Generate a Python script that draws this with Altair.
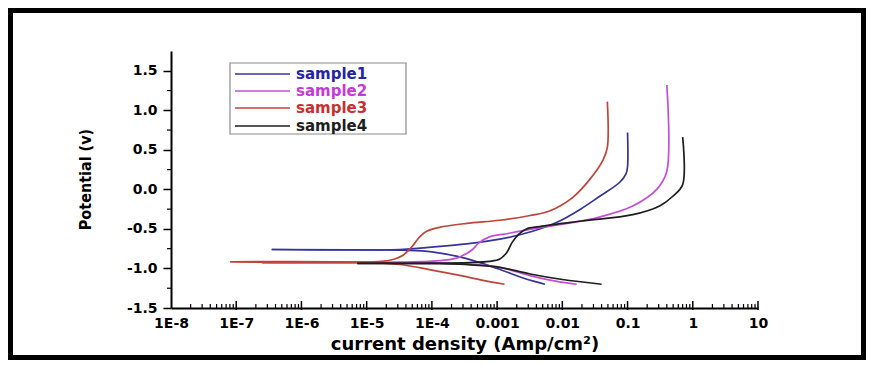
import altair as alt
import pandas as pd

# ---------------- data ----------------
samples = ["sample1", "sample2", "sample3", "sample4"]
line_colors = ["#34349a", "#c24fd6", "#c0443a", "#1e1e1e"]
text_colors = ["#2424a8", "#c838d8", "#c83030", "#1e1e1e"]

# current density (A/cm^2) and potential (V); each branch starts at the low-current end
s1_anodic_i = [3.5e-7, 3.2e-5, 1.0e-4, 3.4e-4, 1.1e-3, 3.5e-3, 8.1e-3, 1.9e-2, 3.7e-2, 7.6e-2, 0.095, 0.1, 0.1]
s1_anodic_E = [-0.76, -0.76, -0.73, -0.69, -0.63, -0.53, -0.42, -0.25, -0.09, 0.09, 0.20, 0.29, 0.72]
s1_cath_i = [3.5e-7, 3.5e-5, 1.0e-4, 3.2e-4, 1.0e-3, 2.5e-3, 4.0e-3, 5.4e-3]
s1_cath_E = [-0.76, -0.77, -0.79, -0.87, -1.00, -1.12, -1.17, -1.20]

s2_anodic_i = [2.5e-7, 3.2e-5, 1.3e-4, 2.4e-4, 3.4e-4, 4.2e-4, 5.2e-4, 7.6e-4, 1.2e-3, 3.5e-3, 1.2e-2, 3.7e-2, 0.12, 0.28, 0.4, 0.4]
s2_anodic_E = [-0.925, -0.92, -0.90, -0.87, -0.81, -0.76, -0.68, -0.60, -0.57, -0.50, -0.43, -0.35, -0.21, 0.00, 0.23, 1.32]
s2_cath_i = [2.5e-7, 1.0e-4, 3.2e-4, 1.0e-3, 3.2e-3, 7.9e-3, 1.66e-2]
s2_cath_E = [-0.925, -0.93, -0.94, -0.98, -1.09, -1.16, -1.20]

s3_anodic_i = [8.1e-8, 1.7e-5, 2.7e-5, 3.5e-5, 5.0e-5, 6.5e-5, 8.3e-5, 1.3e-4, 3.4e-4, 1.1e-3, 3.2e-3, 6.5e-3, 1.45e-2, 2.6e-2, 4.2e-2, 4.9e-2, 4.9e-2]
s3_anodic_E = [-0.915, -0.91, -0.88, -0.84, -0.72, -0.60, -0.53, -0.48, -0.43, -0.39, -0.33, -0.27, -0.10, 0.12, 0.37, 0.53, 1.11]
s3_cath_i = [8.1e-8, 7.8e-6, 3.2e-5, 1.0e-4, 3.2e-4, 7.9e-4, 1.3e-3]
s3_cath_E = [-0.915, -0.92, -0.95, -1.02, -1.10, -1.17, -1.20]

s4_anodic_i = [7.2e-6, 3.8e-4, 7.6e-4, 1.1e-3, 1.4e-3, 1.7e-3, 2.2e-3, 2.8e-3, 4.5e-3, 2.0e-2, 0.12, 0.31, 0.49, 0.7, 0.7]
s4_anodic_E = [-0.935, -0.925, -0.91, -0.88, -0.80, -0.67, -0.56, -0.50, -0.47, -0.40, -0.32, -0.21, -0.09, 0.06, 0.66]
s4_cath_i = [7.2e-6, 1.3e-4, 3.2e-4, 1.0e-3, 3.2e-3, 1.0e-2, 4.0e-2]
s4_cath_E = [-0.935, -0.94, -0.95, -0.98, -1.07, -1.14, -1.20]

x_major = [1e-8, 1e-7, 1e-6, 1e-5, 1e-4, 1e-3, 1e-2, 1e-1, 1, 10]
x_tick_labels = ["1E-8", "1E-7", "1E-6", "1E-5", "1E-4", "0.001", "0.01", "0.1", "1", "10"]
y_ticks = [-1.5, -1.0, -0.5, 0.0, 0.5, 1.0, 1.5]
y_minor = [-1.25, -0.75, -0.25, 0.25, 0.75, 1.25]

# ---------------- build table ----------------
branches = [
    ("sample1", "anodic", s1_anodic_i, s1_anodic_E), ("sample1", "cathodic", s1_cath_i, s1_cath_E),
    ("sample2", "anodic", s2_anodic_i, s2_anodic_E), ("sample2", "cathodic", s2_cath_i, s2_cath_E),
    ("sample3", "anodic", s3_anodic_i, s3_anodic_E), ("sample3", "cathodic", s3_cath_i, s3_cath_E),
    ("sample4", "anodic", s4_anodic_i, s4_anodic_E), ("sample4", "cathodic", s4_cath_i, s4_cath_E),
]
rows = []
for name, br, ii, ee in branches:
    for k, (a, b) in enumerate(zip(ii, ee)):
        rows.append({"sample": name, "branch": name + br, "order": k, "i": a, "E": b})
df = pd.DataFrame(rows)

x_minor = [m * 10.0 ** k for k in range(-8, 1) for m in range(2, 10)]

W, H = 587, 257
PAD = {"left": 163, "top": 43, "right": 108, "bottom": 52}

x_scale = alt.Scale(type="log", domain=[1e-8, 10], nice=False)
y_scale = alt.Scale(domain=[-1.5, 1.75], nice=False, zero=False)
color_scale = alt.Scale(domain=samples, range=line_colors)

x_label_expr = "[" + ",".join("'%s'" % s for s in x_tick_labels) + "][round(log(datum.value)/LN10) + 8]"

x_axis = alt.Axis(
    values=x_major, labelExpr=x_label_expr, ticks=False, tickSize=0, grid=False,
    domainColor="black", domainWidth=2, labelPadding=8, labelFlush=False, labelOverlap=False,
    labelFont="DejaVu Sans", labelFontWeight="bold", labelFontSize=14, labelColor="black",
    title="current density (Amp/cm²)", titleFont="DejaVu Sans", titleFontWeight="bold",
    titleFontSize=18, titleColor="black", titleY=36, titleBaseline="middle")
y_axis = alt.Axis(
    values=y_ticks, labelExpr="(datum.value < 0 ? '-' : '') + format(abs(datum.value), '.1f')",
    tickSize=8, tickWidth=1.5, tickColor="black", grid=False, labelFlush=False, labelOverlap=False,
    domainColor="black", domainWidth=2, labelPadding=6,
    labelFont="DejaVu Sans", labelFontWeight="bold", labelFontSize=14, labelColor="black",
    title="Potential (v)", titleFont="Liberation Sans Narrow, DejaVu Sans Condensed, Liberation Sans",
    titleFontWeight="bold", titleFontSize=16, titleColor="black",
    titleX=-86, titleY=128, titleAngle=270, titleBaseline="middle", titleAlign="center")

lines = alt.Chart(df).mark_line(strokeWidth=1.7, interpolate="catmull-rom").encode(
    x=alt.X("i:Q", scale=x_scale, axis=x_axis),
    y=alt.Y("E:Q", scale=y_scale, axis=y_axis),
    color=alt.Color("sample:N", scale=color_scale, legend=None),
    detail="branch:N",
    order="order:Q",
)

xminor_df = pd.DataFrame({"i": x_minor})
xmajor_df = pd.DataFrame({"i": x_major[1:]})
yminor_df = pd.DataFrame({"E": y_minor})

xminor_ticks = alt.Chart(xminor_df).mark_rule(color="black", strokeWidth=1.2).encode(
    x=alt.X("i:Q", scale=x_scale, axis=x_axis), y=alt.value(H), y2=alt.value(H - 4))
xmajor_ticks = alt.Chart(xmajor_df).mark_rule(color="black", strokeWidth=1.5).encode(
    x=alt.X("i:Q", scale=x_scale, axis=x_axis), y=alt.value(H + 2), y2=alt.value(H - 7))
yminor_ticks = alt.Chart(yminor_df).mark_rule(color="black", strokeWidth=1.2).encode(
    y=alt.Y("E:Q", scale=y_scale, axis=y_axis), x=alt.value(-4), x2=alt.value(0))

# legend box
one = pd.DataFrame({"k": [0]})
leg_box = alt.Chart(one).mark_rect(filled=False, stroke="#8a8a8a", strokeWidth=1.2).encode(
    x=alt.value(59), x2=alt.value(235), y=alt.value(12), y2=alt.value(83))
legend_layers = [leg_box]
row_y = [23, 40, 57, 75]
for name, lc, tc, yy in zip(samples, line_colors, text_colors, row_y):
    d = pd.DataFrame({"sample": [name]})
    legend_layers.append(alt.Chart(d).mark_rule(color=lc, strokeWidth=1.7).encode(
        x=alt.value(64), x2=alt.value(119), y=alt.value(yy)))
    legend_layers.append(alt.Chart(d).mark_text(
        align="left", baseline="middle", font="DejaVu Sans", fontWeight="bold",
        fontSize=15, color=tc).encode(x=alt.value(125), y=alt.value(yy), text="sample:N"))

# outer frame
frame = alt.Chart(one).mark_rect(filled=False, stroke="black", strokeWidth=5).encode(
    x=alt.value(-PAD["left"] + 2.5), x2=alt.value(W + PAD["right"] - 2.5),
    y=alt.value(-PAD["top"] + 2.5), y2=alt.value(H + PAD["bottom"] - 2.5))

chart = alt.layer(lines, xminor_ticks, xmajor_ticks, yminor_ticks, *legend_layers, frame).properties(
    width=W, height=H, padding=PAD, autosize=alt.AutoSizeParams(type="none"),
    background="white",
).configure_view(stroke=None)

chart.save("out.html", embed_options={"renderer": "svg", "actions": False})
